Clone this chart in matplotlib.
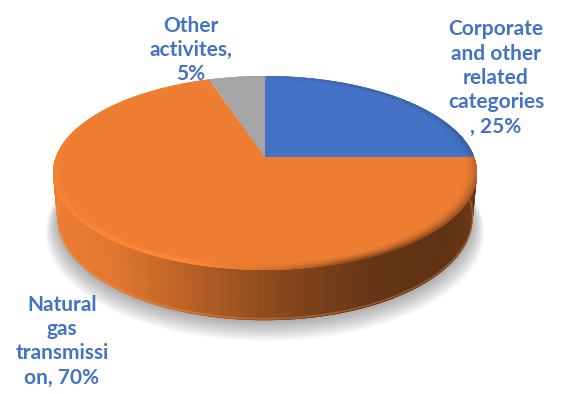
import numpy as np
import matplotlib.pyplot as plt
from matplotlib.colors import to_rgb

# segment shares (%), clockwise from 12 o'clock
shares = [25, 70, 5]
colors = ["#4472C4", "#ED7D31", "#A5A5A5"]
label_text = [
    "Corporate\nand other\nrelated\ncategories\n, {}%",
    "Natural\ngas\ntransmissi\non, {}%",
    "Other\nactivites,\n{}%",
]
label_xy = [(496, 78), (62, 341), (191, 50)]

W, H = 563, 394
fig = plt.figure(figsize=(W / 100, H / 100), dpi=100)
ax = fig.add_axes([0, 0, 1, 1])
ax.set_xlim(0, W)
ax.set_ylim(H, 0)
ax.axis("off")

# perspective view of a flat disc
tilt = np.radians(27)
dist = 5.41
thick = 0.245
cx, cy = 265, 157


def project(a, r=1.0, z=0.0):
    X = r * np.sin(a)
    Y = r * np.cos(a)
    depth = dist + Y * np.cos(tilt) - z * np.sin(tilt)
    return X / depth, (Y * np.sin(tilt) + z * np.cos(tilt)) / depth


grid = np.linspace(0, 2 * np.pi, 2001)
u0, v0 = project(grid)
kx = 212 / np.abs(u0).max()
ky = 81 / v0.max()


def to_px(a, r=1.0, z=0.0):
    u, v = project(a, r, z)
    return cx + kx * u, cy - ky * v


edges = np.concatenate([[0], np.cumsum(shares)]) / sum(shares) * 2 * np.pi


def slice_color(a):
    i = np.searchsorted(edges, a % (2 * np.pi), side="right") - 1
    return np.array(to_rgb(colors[min(i, len(colors) - 1)]))


def side_shade(x):
    t = (x - (cx - 212)) / 424
    return np.interp(t, [0, 0.15, 0.35, 0.55, 0.75, 0.92, 1],
                     [1.0, 0.95, 0.76, 0.56, 0.43, 0.40, 0.46])


def bevel_shade(x):
    t = (x - (cx - 212)) / 424
    return np.interp(t, [0, 0.3, 0.5, 0.7, 1], [1.10, 1.12, 0.92, 0.6, 0.5])


# soft shadow under the disc
for k in range(12):
    bx, by = to_px(grid, 1.0 + 0.005 * k, -thick)
    ax.fill(bx, by + 2 + k * 1.0, color="black", alpha=0.028, lw=0)

# side wall, drawn as thin overlapping strips back to front
n = 720
a = np.linspace(0, 2 * np.pi, n + 1)
da = a[1] - a[0]
mids = (a[:-1] + a[1:]) / 2
order = np.argsort(np.cos(mids))[::-1]
for i in order:
    if np.cos(mids[i]) > 0.3:
        continue
    a0, a1 = a[i] - da, a[i + 1] + da
    tx, ty = to_px(np.array([a0, a1]))
    bx, by = to_px(np.array([a1, a0]), z=-thick)
    xs = np.concatenate([tx, bx])
    ys = np.concatenate([ty, by])
    c = np.clip(slice_color(mids[i]) * side_shade(xs.mean()), 0, 1)
    ax.fill(xs, ys, color=c, lw=0)

# faint light line along the bottom edge of the wall
t = np.linspace(np.pi / 2, 3 * np.pi / 2, 300)
bx, by = to_px(t, z=-thick)
ax.plot(bx, by - 1.5, color="#F4A66C", lw=1.0, alpha=0.35)

# top faces
for s in range(len(shares)):
    t = np.linspace(edges[s], edges[s + 1], 200)
    px, py = to_px(t)
    ax.fill(np.r_[cx, px], np.r_[cy, py], color=colors[s], lw=0)

# rounded rim along the top edge
rings = np.linspace(0.95, 1.0, 7)
for j in range(len(rings) - 1):
    w = ((j + 1) / (len(rings) - 1)) ** 1.6
    for i in range(n):
        a0, a1 = a[i] - da * 0.5, a[i + 1] + da * 0.5
        ox, oy = to_px(np.array([a0, a1]), rings[j + 1])
        ix, iy = to_px(np.array([a1, a0]), rings[j])
        xs = np.concatenate([ox, ix])
        ys = np.concatenate([oy, iy])
        base = slice_color(mids[i])
        f = 1 + (bevel_shade(xs.mean()) - 1) * w * (0.3 + 0.7 * max(0, -np.cos(mids[i])))
        c = np.clip(base * f, 0, 1)
        ax.fill(xs, ys, color=c, lw=0)

# data labels
for s, (x, y) in enumerate(label_xy):
    ax.text(x, y, label_text[s].format(shares[s]), ha="center", va="center",
            family="Lato", weight="bold", fontsize=15, color="#4472C4",
            linespacing=1.27)

fig.savefig("out.png", dpi=100)
